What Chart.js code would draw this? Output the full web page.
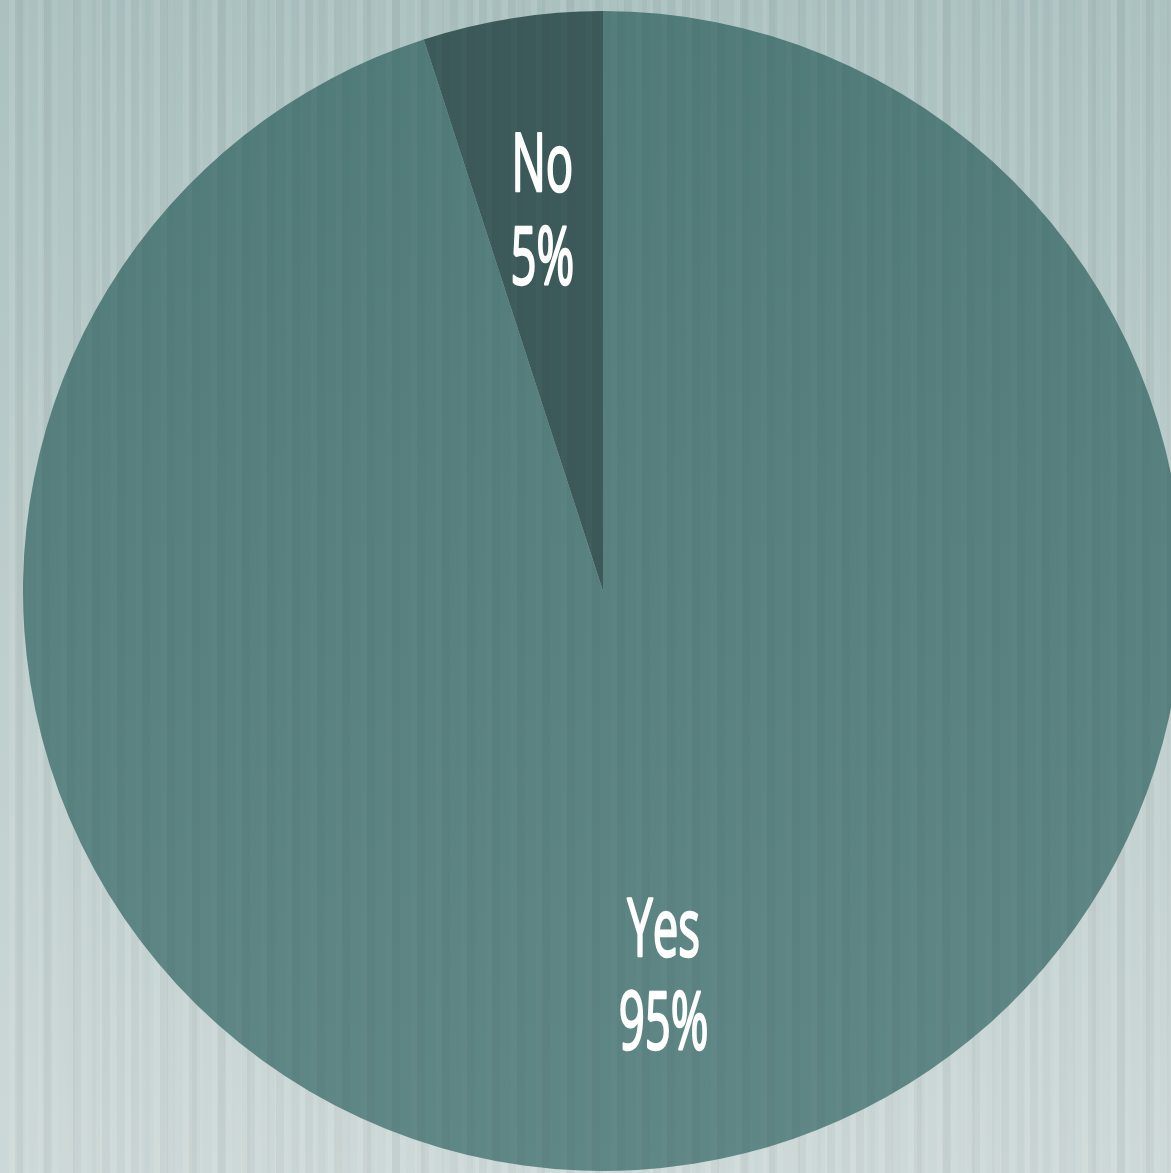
<!DOCTYPE html>
<html>
<head>
<meta charset="utf-8">
<script src="https://cdn.jsdelivr.net/npm/chart.js@4.4.1/dist/chart.umd.min.js"></script>
<style>
  html, body { margin: 0; padding: 0; width: 1171px; height: 1173px; overflow: hidden; }
  body {
    position: relative;
    background:
      repeating-linear-gradient(90deg, rgba(255,255,255,0.00) 0px, rgba(255,255,255,0.00) 9px, rgba(255,255,255,0.08) 9px, rgba(255,255,255,0.08) 15px, rgba(0,0,0,0.025) 15px, rgba(0,0,0,0.025) 23px, rgba(255,255,255,0.05) 23px, rgba(255,255,255,0.05) 29px),
      linear-gradient(180deg, #aac1c0 0%, #bccdcc 50%, #cdd9d8 100%);
  }
  #wrap { position: absolute; left: 23px; top: 11px; width: 1160px; height: 1160px; }
  #overlay {
    position: absolute; inset: 0; pointer-events: none;
    background: repeating-linear-gradient(90deg, rgba(255,255,255,0) 0px, rgba(255,255,255,0) 11px, rgba(255,255,255,0.02) 11px, rgba(255,255,255,0.02) 17px, rgba(0,0,0,0.015) 17px, rgba(0,0,0,0.015) 25px);
  }
</style>
</head>
<body>
<div id="wrap"><canvas id="pieChart"></canvas></div>
<div id="overlay"></div>
<script>
// Survey answers
const answerLabels = ["Yes", "No"];
const answerShares = [95, 5];
const sliceTop = ["#517b79", "#3d5a5a"];
const sliceBottom = ["#5f8786", "#3d5a5a"];

// Draws "No / 5%" style labels inside each slice, condensed like the original
const sliceLabels = {
  id: "sliceLabels",
  afterDatasetsDraw(chart) {
    const ctx = chart.ctx;
    const meta = chart.getDatasetMeta(0);
    meta.data.forEach((arc, i) => {
      const p = arc.getProps(["x", "y", "startAngle", "endAngle", "outerRadius"], true);
      const mid = (p.startAngle + p.endAngle) / 2;
      const r = p.outerRadius * 0.668;
      const cx = p.x + Math.cos(mid) * r;
      const cy = p.y + Math.sin(mid) * r + 6;
      ctx.save();
      ctx.translate(cx, cy);
      ctx.scale(0.57, 1);
      ctx.fillStyle = "#ffffff";
      ctx.strokeStyle = "#ffffff";
      ctx.lineWidth = 2.5;
      ctx.lineJoin = "round";
      ctx.textAlign = "center";
      ctx.textBaseline = "middle";
      ctx.font = "80px 'Open Sans', 'DejaVu Sans Condensed', sans-serif";
      [[answerLabels[i], -46], [answerShares[i] + "%", 47]].forEach(([t, dy]) => {
        ctx.fillText(t, 0, dy);
        ctx.strokeText(t, 0, dy);
      });
      ctx.restore();
    });
  },
};

const ctx = document.getElementById("pieChart").getContext("2d");
new Chart(ctx, {
  type: "pie",
  data: {
    labels: answerLabels,
    datasets: [{
      data: answerShares,
      borderWidth: 0,
      backgroundColor: (c) => {
        const area = c.chart.chartArea;
        if (!area) return sliceTop[c.dataIndex];
        const g = c.chart.ctx.createLinearGradient(0, area.top, 0, area.bottom);
        g.addColorStop(0, sliceTop[c.dataIndex]);
        g.addColorStop(1, sliceBottom[c.dataIndex]);
        return g;
      },
    }],
  },
  options: {
    responsive: true,
    maintainAspectRatio: false,
    animation: false,
    layout: { padding: 0 },
    plugins: { legend: { display: false }, tooltip: { enabled: false } },
  },
  plugins: [sliceLabels],
});
</script>
</body>
</html>
